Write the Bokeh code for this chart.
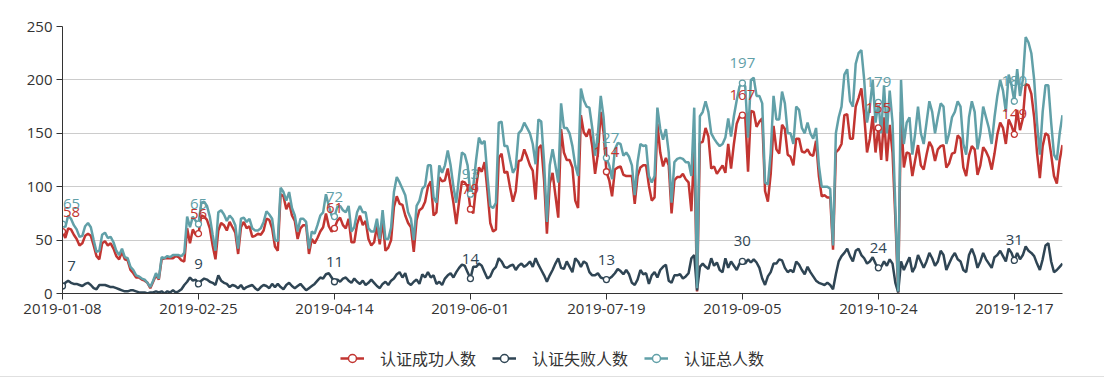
from bokeh.plotting import figure
from bokeh.layouts import column
from bokeh.models import Range1d, FixedTicker, Legend, LegendItem, ColumnDataSource, LabelSet
from bokeh.core.properties import value
from bokeh.embed import file_html
from bokeh.resources import INLINE

# ---- data -------------------------------------------------------------
tick_labels = ["2019-01-08", "2019-02-25", "2019-04-14", "2019-06-01",
               "2019-07-19", "2019-09-05", "2019-10-24", "2019-12-17"]
label_step = 48

series_names = ["认证成功人数", "认证失败人数", "认证总人数"]

# 认证总人数 (total)
total = [
    65, 62, 73, 70, 64, 60, 53, 54, 63, 66, 62, 50, 39, 40, 55, 57, 52, 53, 48, 40,
    36, 42, 34, 33, 25, 22, 17, 16, 14, 13, 10, 6, 12, 19, 14, 34, 33, 35, 34, 36,
    36, 36, 35, 38, 72, 62, 72, 68, 65,
    85, 86, 82, 72, 55, 40, 76, 78, 74, 68,
    73, 70, 64, 42, 70, 71, 67, 70, 61, 59,
    59, 61, 67, 77, 74, 70, 50, 49, 99, 95,
    87, 95, 80, 73, 58, 70, 70, 67, 42, 58,
    56, 64, 73, 76, 93, 82, 73, 72, 81, 82,
    78, 76, 82, 58, 62, 76, 82, 76, 76, 61,
    58, 58, 70, 51, 78, 51, 51, 62, 95, 109,
    104, 98, 92, 76, 70, 50, 82, 87, 98, 101,
    120,
    120, 90, 85, 120, 113, 120, 134, 120, 100, 85,
    110, 132, 130, 120, 93, 100, 125, 146, 140, 143,
    110, 82, 80, 85, 160, 161, 138, 138, 125, 113,
    118, 150, 153,
    160, 155, 150, 140, 121, 163, 161, 123, 67, 120,
    135, 120, 104, 178, 155, 155, 150, 138, 120, 110,
    192, 181, 175, 174, 155, 129, 150, 185, 165, 127,
    120,
    107, 135, 141, 140, 129, 132, 128, 120, 92, 123,
    140, 138, 139, 110, 104, 110, 174, 154, 144, 154,
    132, 85, 123, 126, 127, 126, 123, 123, 110, 174,
    5, 166, 170, 180, 170, 150, 145, 141, 138, 140,
    146, 164, 147, 166, 181, 194, 197, 194, 146, 200,
    202, 185, 185, 178, 104, 102, 132, 185, 163, 163,
    189, 178, 150,
    150, 140, 175, 172, 155, 150, 160, 150, 145, 155,
    120, 100, 100, 100, 98, 45, 150, 165, 175, 205,
    210, 180, 175, 215, 225, 228, 200, 160, 175, 200,
    160, 179, 150, 195, 150, 190, 160, 80, 2, 200,
    140, 160, 165, 130, 150, 175, 150, 140, 160, 180,
    170, 150, 165, 178, 175, 140, 150, 165, 170, 180,
    175, 140, 130, 165, 180, 170, 135, 150, 175, 165,
    155, 140, 165, 185, 200, 190, 170, 205, 195, 180,
    210, 185, 200, 240, 235, 225, 200, 160, 130, 170,
    195, 195, 160, 130, 125, 150, 167,
]

# 认证失败人数 (failed)
failed = [
    7, 10, 12, 10, 9, 9, 8, 7, 9, 10, 8, 5, 4, 8, 8, 8, 7, 6, 6, 5,
    4, 3, 2, 2, 3, 3, 2, 1, 1, 1, 0, 1, 1, 2, 1, 2, 0, 2, 1, 3,
    1, 2, 4, 8, 11, 15, 12, 13, 9,
    12, 14, 13, 11, 10, 8, 17, 12, 10, 9,
    6, 8, 7, 5, 8, 4, 6, 7, 8, 5, 3, 6, 8, 7, 5, 9, 6,
    9, 6, 4, 8, 10, 7, 5, 7, 9, 6, 3, 5,
    7, 9, 12, 15, 14, 18, 19, 15, 11, 13, 11, 14, 15,
    12, 10, 14, 11, 9, 12, 8, 10, 13, 10, 7, 5, 9, 11, 8, 12, 14, 18, 20, 15,
    19, 10, 8, 11, 13, 9, 18, 15, 20,
    15, 17, 9, 11, 8, 14, 17, 19, 15, 20,
    24, 27, 26, 20, 14, 25, 25, 28, 26, 20,
    14, 16, 22, 25, 33, 30, 25, 24, 26, 27,
    22, 26, 28,
    25, 27, 30, 25, 33, 27, 22, 17, 11, 17,
    22, 28, 33, 24, 23, 30, 25, 20, 33, 30,
    25, 30, 28, 20, 17, 17, 19, 15, 14, 13,
    14,
    16, 19, 23, 21, 18, 22, 18, 10, 8, 13,
    22, 18, 19, 9, 17, 20, 15, 22, 25, 27,
    12, 10, 17, 17, 18, 14, 16, 19, 33, 36,
    3, 25, 28, 25, 23, 33, 26, 29, 22, 20,
    33, 24, 30, 26, 22, 28, 30, 28, 32, 29,
    32, 29, 24, 14, 8, 16, 20, 28, 28, 32,
    31, 24, 20, 22,
    20, 30, 27, 22, 18, 25, 20, 16, 12, 10,
    9, 8, 10, 8, 4, 18, 30, 35, 38, 42,
    35, 30, 40, 42, 36, 33, 28, 30, 34, 28,
    24, 25, 30, 26, 32, 28, 10, 1, 30, 22,
    28, 34, 20, 25, 36, 30, 24, 30, 38, 33,
    26, 30, 40, 36, 22, 28, 34, 38, 32, 30,
    22, 20, 36, 42, 35, 24, 30, 38, 32, 28,
    24, 34, 36, 40, 35, 30, 42, 38, 31, 38,
    32, 36, 44, 40, 38, 35, 28, 22, 32, 45,
    47, 30, 20, 22, 25, 28,
]

# 认证成功人数 = total - failed
success = [t - f for t, f in zip(total, failed)]

days = list(range(len(total)))
colors = ["#c23531", "#2f4554", "#61a0a8"]

NUM_FONT = "Open Sans"
CJK_FONT = "Noto Sans CJK SC"

# ---- main chart -------------------------------------------------------
p = figure(frame_width=1000, frame_height=267,
           min_border_left=62, min_border_right=40,
           min_border_top=26, min_border_bottom=45,
           x_range=Range1d(0, len(days) - 1), y_range=Range1d(0, 250),
           output_backend="svg", toolbar_location=None,
           background_fill_color="white", border_fill_color="white")
p.outline_line_color = None

p.xaxis.ticker = FixedTicker(ticks=[i * label_step for i in range(len(tick_labels))])
p.xaxis.major_label_overrides = {i * label_step: s for i, s in enumerate(tick_labels)}
p.yaxis.ticker = FixedTicker(ticks=[0, 50, 100, 150, 200, 250])
for ax in (p.xaxis[0], p.yaxis[0]):
    ax.axis_line_color = "#333333"
    ax.axis_line_width = 1
    ax.major_tick_line_color = "#333333"
    ax.major_tick_out = 6
    ax.major_tick_in = 0
    ax.minor_tick_out = 0
    ax.minor_tick_in = 0
    ax.major_label_text_color = "#333333"
    ax.major_label_text_font = NUM_FONT
    ax.major_label_text_font_size = "15px"
    ax.major_label_standoff = 4
p.xgrid.grid_line_color = None
p.ygrid.grid_line_color = "#cccccc"
p.ygrid.grid_line_width = 1
p.ygrid.ticker = FixedTicker(ticks=[50, 100, 150, 200, 250])

all_series = [success, failed, total]
for name, vals, col in zip(series_names, all_series, colors):
    src = ColumnDataSource(dict(x=days, y=vals))
    p.line("x", "y", source=src, line_color=col, line_width=2.5)

label_idx = list(range(0, len(days), label_step))
for name, vals, col in zip(series_names, all_series, colors):
    lsrc = ColumnDataSource(dict(x=label_idx, y=[vals[i] for i in label_idx],
                                 t=[str(vals[i]) for i in label_idx],
                                 dx=[9 if i == 0 else 0 for i in label_idx]))
    p.scatter("x", "y", source=lsrc, marker="circle", size=6,
              line_color=col, line_width=1.3, fill_color="white")
    p.add_layout(LabelSet(x="x", y="y", text="t", source=lsrc, text_color=col,
                          text_font=value(NUM_FONT), text_font_size=value("15px"),
                          text_align="center", text_baseline="alphabetic",
                          x_offset="dx", y_offset=15))

# ---- legend strip -----------------------------------------------------
q = figure(frame_width=1050, frame_height=38, min_border_left=54,
           min_border_right=0, min_border_top=0, min_border_bottom=0,
           x_range=Range1d(0, 1), y_range=Range1d(0, 1),
           x_axis_location=None, y_axis_location=None,
           output_backend="svg", toolbar_location=None,
           background_fill_color="white", border_fill_color="white")
q.outline_line_color = None
q.xgrid.visible = False
q.ygrid.visible = False
q.styles = {"border-bottom": "1px solid #e0e0e0"}

items = []
for name, col in zip(series_names, colors):
    dsrc = ColumnDataSource(dict(x=[-5], y=[-5]))
    lr = q.line("x", "y", source=dsrc, line_color=col, line_width=2.5)
    sr = q.scatter("x", "y", source=dsrc, marker="circle", size=9,
                   line_color=col, line_width=1.5, fill_color="white")
    items.append(LegendItem(label=name, renderers=[lr, sr]))

legend = Legend(items=items, orientation="horizontal", location="center",
                glyph_width=24, glyph_height=20, label_height=20,
                label_standoff=16, spacing=16,
                padding=0, margin=0, border_line_color=None,
                background_fill_alpha=0,
                label_text_font=CJK_FONT,
                label_text_font_size="16px", label_text_color="#333333")
q.add_layout(legend, "center")

layout = column(p, q, spacing=0)
open("out.html", "w").write(file_html(layout, INLINE))
